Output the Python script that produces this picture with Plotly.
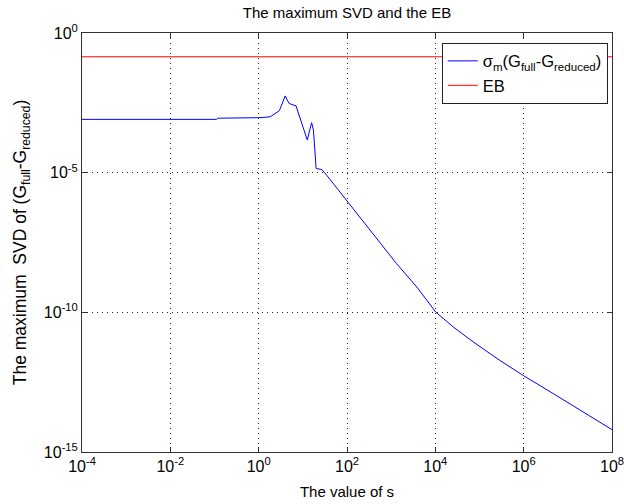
import plotly.graph_objects as go

# Data
s_values = [1e-4, 0.112, 0.1175, 1.07, 1.82, 2.95, 3.98, 4.9, 7.0, 8.6, 12.6, 15.8, 17.4,
            20.0, 26.9, 34.7, 97.7, 195, 513, 1318, 3802, 10230, 25700, 72400, 288000,
            977000, 4.68e6, 2.24e7, 1e8]
sigma_values = [8.1e-4, 8.1e-4, 8.9e-4, 9.3e-4, 1.0e-3, 1.66e-3, 5.6e-3, 3.0e-3, 2.45e-3,
                8.7e-4, 1.48e-4, 6.2e-4, 3.3e-4, 1.41e-5, 1.29e-5, 8.1e-6, 1.05e-6, 2.6e-7,
                3.8e-8, 5.6e-9, 8.1e-10, 1.02e-10, 2.95e-11, 8.7e-12, 1.9e-12, 5.5e-13,
                1.23e-13, 2.7e-14, 6.3e-15]
eb_s = [1e-4, 1e8]
eb_values = [0.141, 0.141]

x_tickvals = [1e-4, 1e-2, 1e0, 1e2, 1e4, 1e6, 1e8]
x_ticktext = ["10<sup>-4</sup>", "10<sup>-2</sup>", "10<sup>0</sup>", "10<sup>2</sup>",
              "10<sup>4</sup>", "10<sup>6</sup>", "10<sup>8</sup>"]
y_tickvals = [1e-15, 1e-10, 1e-5, 1e0]
y_ticktext = ["10<sup>-15</sup>", "10<sup>-10</sup>", "10<sup>-5</sup>", "10<sup>0</sup>"]

FONT = "Liberation Sans, Arial, sans-serif"

fig = go.Figure()
fig.add_trace(go.Scatter(
    x=s_values, y=sigma_values, mode="lines",
    line=dict(color="#0000ff", width=1),
    name="σ<sub>m</sub>(G<sub>full</sub>-G<sub>reduced</sub>)"))
fig.add_trace(go.Scatter(
    x=eb_s, y=eb_values, mode="lines",
    line=dict(color="#ff0000", width=1),
    name="EB"))

axis_common = dict(
    showline=True, linecolor="#333", linewidth=1, mirror="ticks",
    ticks="inside", ticklen=5, tickcolor="#333",
    showgrid=True, gridcolor="#222", gridwidth=1, griddash="1px,4px",
    zeroline=False, automargin=False, ticklabeloverflow="allow",
    tickfont=dict(family=FONT, size=16, color="#000"),
)

fig.update_layout(
    width=624, height=504,
    margin=dict(l=82, r=12, t=33, b=52),
    paper_bgcolor="white", plot_bgcolor="white",
    font=dict(family=FONT, size=15, color="#000"),
    title=dict(text="The maximum SVD and the EB", x=0.5, xref="paper",
               y=1 - 13 / 504, yref="container", yanchor="middle",
               font=dict(family=FONT, size=15, color="#000")),
    xaxis=dict(type="log", range=[-4, 8], tickvals=x_tickvals, ticktext=x_ticktext,
               title=dict(text="The value of s", standoff=12,
                          font=dict(family=FONT, size=15)),
               **axis_common),
    yaxis=dict(type="log", range=[-15, 0], tickvals=y_tickvals, ticktext=y_ticktext,
               title=dict(text="The maximum  SVD of (G<sub>full</sub>-G<sub>reduced</sub>)",
                          standoff=12, font=dict(family=FONT, size=17.5)),
               **axis_common),
    showlegend=True,
    legend=dict(x=0.992, y=0.977, xanchor="right", yanchor="top",
                bgcolor="white", bordercolor="#222", borderwidth=1,
                font=dict(family=FONT, size=16.5, color="#000"),
                itemwidth=30, tracegroupgap=0),
)

fig.write_html("out.html")
